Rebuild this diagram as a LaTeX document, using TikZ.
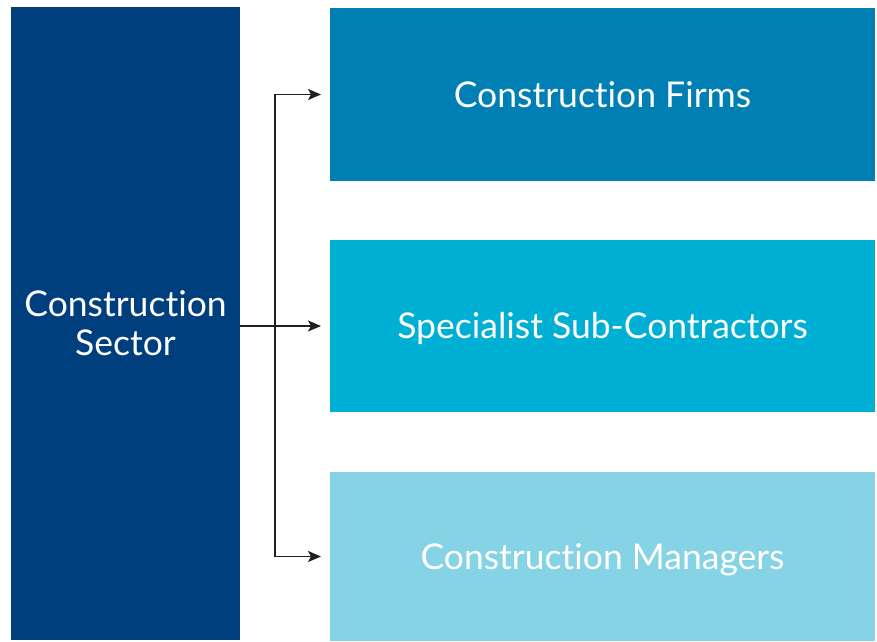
\documentclass[tikz,border=0pt]{standalone}
\usepackage{fontspec}
\setmainfont[Ligatures={NoCommon}]{Lato}
\usetikzlibrary{arrows.meta}
\definecolor{sectorblue}{HTML}{003F7E}
\definecolor{firmsblue}{HTML}{007FB4}
\definecolor{subblue}{HTML}{00B0D4}
\definecolor{managerblue}{HTML}{86D3E6}
\definecolor{arrowgray}{HTML}{231F20}
\begin{document}
\begin{tikzpicture}[x=1pt,y=-1pt,inner sep=0pt,outer sep=0pt,
sectorbox/.style={rectangle,fill=sectorblue,text=white,minimum width=229pt,minimum height=633pt,align=center,font=\fontsize{35.5}{39}\selectfont},
groupbox/.style={rectangle,text=white,minimum width=545pt,text height=25pt,text depth=0pt,font=\fontsize{35.5}{39}\selectfont},
link/.style={draw=arrowgray,line width=1.4pt,-{Stealth[length=13pt,width=11pt,inset=3pt]},shorten >=9pt}]
\useasboundingbox (0,0) rectangle (877,641);
\draw (125.5,323) node[sectorbox] (sector) {Construction\\Sector};
\draw (602.5,94.5) node[groupbox,fill=firmsblue,minimum height=173pt] (firms) {Construction Firms};
\draw (602.5,326) node[groupbox,fill=subblue,minimum height=172pt] (sub) {Specialist Sub-Contractors};
\draw (602.5,556.5) node[groupbox,fill=managerblue,minimum height=169pt] (managers) {Construction Managers};
\coordinate (split) at (275,326);
\draw[link] (sector.east |- split) -- (sub.west |- split);
\draw[link] (split) |- (firms.west);
\draw[link] (split) |- (managers.west);
\end{tikzpicture}
\end{document}
